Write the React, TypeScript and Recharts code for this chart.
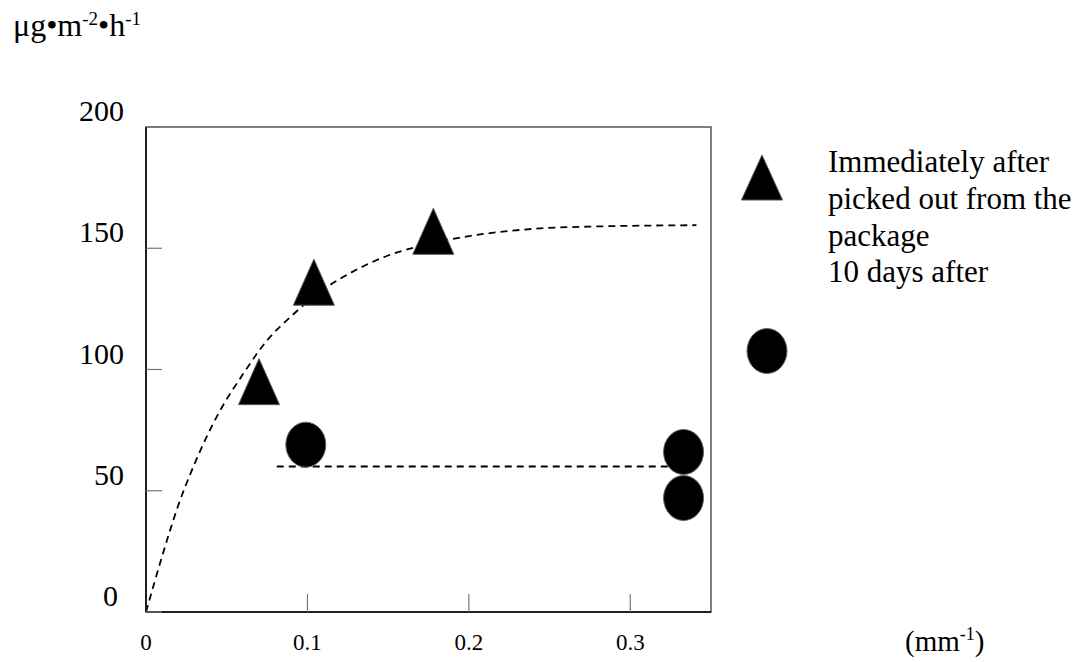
import React from 'react';
import { ComposedChart, XAxis, YAxis, Line, Scatter, ReferenceArea } from 'recharts';

const xTicks = [0, 0.1, 0.2, 0.3];
const yTicks = [0, 50, 100, 150, 200];

const triangleX = [0.07, 0.104, 0.178];
const triangleY = [95, 136, 157];

const circleX = [0.099, 0.333, 0.333];
const circleY = [69, 66, 47];

const curveX = [0, 0.01, 0.02, 0.03, 0.045, 0.06, 0.075, 0.09, 0.11, 0.13, 0.15, 0.17, 0.2, 0.24, 0.28, 0.341];
const curveY = [0, 23, 44, 61, 82, 98, 112, 122, 133, 141, 147, 151, 155, 158, 159, 159.5];

const flatX = [0.081, 0.333];
const flatY = [60, 60];

const triangles = triangleX.map((x, i) => ({ x, y: triangleY[i] }));
const circles = circleX.map((x, i) => ({ x, y: circleY[i] }));
const curve = curveX.map((x, i) => ({ x, y: curveY[i] }));
const flat = flatX.map((x, i) => ({ x, y: flatY[i] }));

const FONT = '"Liberation Serif", "Times New Roman", serif';

const Triangle = (props: any) => {
  const { cx, cy } = props;
  const w = 41, h = 46;
  const pts = `${cx},${cy - h / 2} ${cx - w / 2},${cy + h / 2} ${cx + w / 2},${cy + h / 2}`;
  return <polygon points={pts} fill="#000" stroke="#555" strokeWidth={1} />;
};

const Circle = (props: any) => {
  const { cx, cy } = props;
  return <ellipse cx={cx} cy={cy} rx={20} ry={22.5} fill="#000" stroke="#666" strokeWidth={1} />;
};

const XTick = (props: any) => {
  const { x, y, payload } = props;
  return (
    <text x={x} y={y + 56} textAnchor="middle" fontFamily={FONT} fontSize={23} fill="#000">
      {payload.value}
    </text>
  );
};

const YTick = (props: any) => {
  const { x, y, payload } = props;
  const dx = payload.value === 0 ? -44 : -38;
  return (
    <text x={x + dx} y={y - 6} textAnchor="end" fontFamily={FONT} fontSize={30} fill="#000">
      {payload.value}
    </text>
  );
};

export default function App() {
  return (
    <div style={{ position: 'absolute', left: 0, top: 0, width: 1085, height: 662, background: '#fff' }}>
      <ComposedChart
        width={1085}
        height={662}
        margin={{ top: 127, right: 374, bottom: 0, left: 0 }}
      >
        <XAxis
          type="number"
          dataKey="x"
          domain={[0, 0.35]}
          ticks={xTicks}
          allowDataOverflow
          height={50}
          tickSize={-18}
          tickMargin={0}
          axisLine={{ stroke: '#000', strokeWidth: 1.5 }}
          tickLine={{ stroke: '#777', strokeWidth: 1.2 }}
          tick={<XTick />}
        />
        <YAxis
          type="number"
          dataKey="y"
          domain={[0, 200]}
          ticks={yTicks}
          allowDataOverflow
          width={146}
          tickSize={-16}
          tickMargin={0}
          axisLine={{ stroke: '#000', strokeWidth: 1.5 }}
          tickLine={{ stroke: '#777', strokeWidth: 1.2 }}
          tick={<YTick />}
        />
        <ReferenceArea x1={0} x2={0.35} y1={0} y2={200} fill="none" stroke="#555" strokeWidth={1.5} ifOverflow="visible" />
        <Line
          data={curve}
          dataKey="y"
          type="monotone"
          stroke="#000"
          strokeWidth={1.8}
          strokeDasharray="7 5"
          dot={false}
          isAnimationActive={false}
        />
        <Line
          data={flat}
          dataKey="y"
          type="linear"
          stroke="#000"
          strokeWidth={1.8}
          strokeDasharray="7 5"
          dot={false}
          isAnimationActive={false}
        />
        <Scatter data={triangles} dataKey="y" shape={<Triangle />} isAnimationActive={false} />
        <Scatter data={circles} dataKey="y" shape={<Circle />} isAnimationActive={false} />
      </ComposedChart>
      <svg width={1085} height={662} style={{ position: 'absolute', left: 0, top: 0, pointerEvents: 'none' }}>
        <text x={13} y={36} fontFamily={FONT} fontSize={32} fill="#000">
          μg•m<tspan dy={-11} fontSize={19}>-2</tspan><tspan dy={11}>•h</tspan><tspan dy={-11} fontSize={19}>-1</tspan>
        </text>
        <polygon points="762,155 741.5,200 782.5,200" fill="#000" stroke="#555" strokeWidth={1} />
        <ellipse cx={767} cy={351} rx={20} ry={22.5} fill="#000" stroke="#666" strokeWidth={1} />
        <text fontFamily={FONT} fontSize={31} fill="#000">
          <tspan x={828} y={172}>Immediately after</tspan>
          <tspan x={828} y={209}>picked out from the</tspan>
          <tspan x={828} y={246}>package</tspan>
          <tspan x={828} y={282}>10 days after</tspan>
        </text>
        <text x={905} y={651} fontFamily={FONT} fontSize={29} fill="#000">
          (mm<tspan dy={-11} fontSize={18}>-1</tspan><tspan dy={11}>)</tspan>
        </text>
      </svg>
    </div>
  );
}
